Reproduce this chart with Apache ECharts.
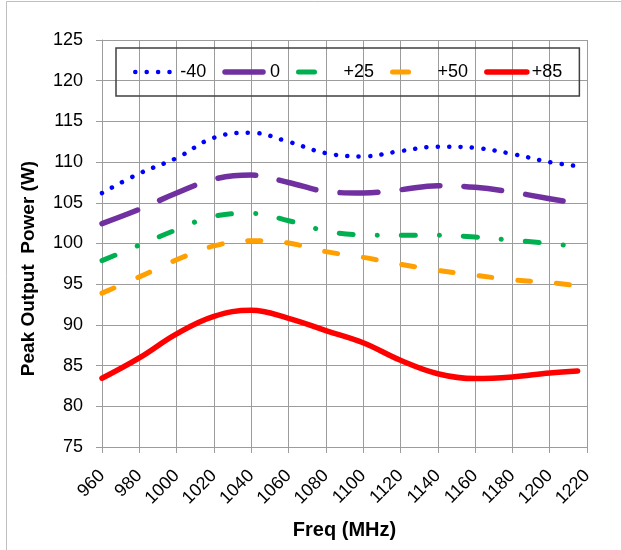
<!DOCTYPE html>
<html><head><meta charset="utf-8">
<script src="https://cdn.jsdelivr.net/npm/echarts@6/dist/echarts.min.js"></script>
<style>html,body{margin:0;padding:0;background:#fff}#c{width:621px;height:550px}</style>
</head><body><div id="c"></div>
<script>
const freqs = [960,980,1000,1020,1040,1060,1080,1100,1120,1140,1160,1180,1200,1215];
const seriesNames = ['-40','0','+25','+50','+85'];
const valsM40 = [106.2,108.6,110.5,113.0,113.6,112.5,111.1,110.7,111.35,111.9,111.75,111.0,110.0,109.5];
const vals0   = [102.45,104.2,106.2,107.9,108.4,107.5,106.4,106.2,106.6,107.1,106.9,106.3,105.5,104.9];
const valsP25 = [97.9,99.8,101.7,103.35,103.7,102.8,101.55,101.05,101.0,101.0,100.8,100.4,100.0,99.6];
const valsP50 = [93.9,95.9,98.0,99.7,100.35,100.05,99.0,98.3,97.45,96.7,96.1,95.55,95.2,94.8];
const valsP85 = [83.45,85.95,88.9,91.05,91.8,90.8,89.3,87.8,85.65,84.0,83.4,83.6,84.1,84.35];
const xTicks = {min:960, max:1220, step:20};
const yTicks = {min:75, max:125, step:5};

const FONT = 'Liberation Sans';
const GRID = '#9c9c9c';
const styles = [
  {color:'#0000FF', width:4.5, type:[0.1, 11.3], legendType:[0.1, 11.3]},
  {color:'#7030A0', width:5.5, type:[38, 24.2], legendType:[38, 24]},
  {color:'#00B050', width:5, type:[14, 24, 0.1, 24], legendType:[16, 40]},
  {color:'#FFA000', width:5, type:[13, 26], legendType:[16, 40]},
  {color:'#FF0000', width:5.5, type:'solid', legendType:'solid'}
];
const allVals = [valsM40, vals0, valsP25, valsP50, valsP85];

const series = seriesNames.map((n, i) => ({
  name: n, type: 'line', smooth: 0.4, symbol: 'none',
  data: freqs.map((f, k) => [f, allVals[i][k]]),
  lineStyle: {color: styles[i].color, width: styles[i].width, type: styles[i].type, cap: 'round', join: 'round'},
  itemStyle: {color: styles[i].color},
  z: 10 - i
}));

const chart = echarts.init(document.getElementById('c'), null, {renderer: 'canvas'});
chart.setOption({
  animation: false,
  backgroundColor: '#fff',
  textStyle: {fontFamily: FONT},
  graphic: [{type: 'rect', shape: {x: 6.5, y: 1.5, width: 800, height: 800}, style: {fill: 'none', stroke: '#bfbfbf', lineWidth: 1}, silent: true, z: -1}],
  grid: {left: 102, right: 34, top: 40, bottom: 103, containLabel: false},
  legend: {
    left: 116, top: 48, padding: [15, 17], borderColor: '#404040', borderWidth: 1.5,
    itemWidth: 40, itemHeight: 18, itemGap: 16,
    textStyle: {fontSize: 18, color: '#000', fontFamily: FONT},
    data: seriesNames.map((n, i) => ({name: n,
      itemStyle: {opacity: 0},
      lineStyle: {color: styles[i].color, width: styles[i].width, type: styles[i].legendType, cap: 'round'}}))
  },
  xAxis: {
    type: 'value', min: xTicks.min, max: xTicks.max, interval: xTicks.step,
    axisLine: {show: true, lineStyle: {color: GRID}},
    axisTick: {show: true, length: 6, lineStyle: {color: GRID}},
    splitLine: {show: true, lineStyle: {color: GRID}},
    axisLabel: {rotate: 45, fontSize: 18, color: '#000', margin: 26, fontFamily: FONT, formatter: v => String(v)},
    name: 'Freq (MHz)', nameLocation: 'middle', nameGap: 73,
    nameTextStyle: {fontWeight: 'bold', fontSize: 20, color: '#000', fontFamily: FONT}
  },
  yAxis: {
    type: 'value', min: yTicks.min, max: yTicks.max, interval: yTicks.step,
    axisLine: {show: true, lineStyle: {color: GRID}},
    axisTick: {show: true, length: 6, lineStyle: {color: GRID}},
    splitLine: {show: true, lineStyle: {color: GRID}},
    axisLabel: {fontSize: 18, color: '#000', margin: 19, fontFamily: FONT},
    name: 'Peak Output  Power (W)', nameLocation: 'middle', nameGap: 64,
    nameTextStyle: {fontWeight: 'bold', fontSize: 19, color: '#000', fontFamily: FONT, padding: [0, 50, 0, 0]}
  },
  series: series
});
</script></body></html>
